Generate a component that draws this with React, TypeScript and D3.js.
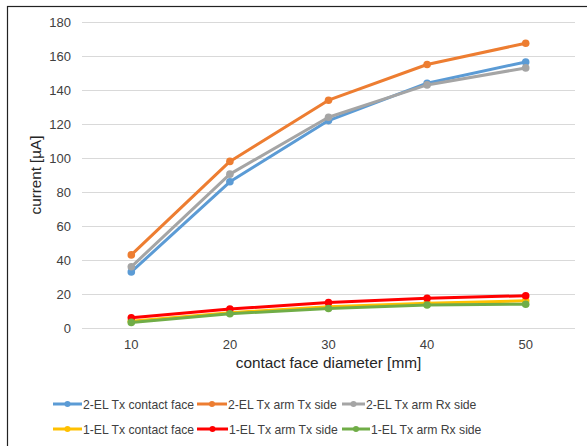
import React from "react";
import * as d3 from "d3";

const categories = ["10", "20", "30", "40", "50"];
const yTicks = [0, 20, 40, 60, 80, 100, 120, 140, 160, 180];

const seriesNames = [
  "2-EL Tx contact face",
  "2-EL Tx arm Tx side",
  "2-EL Tx arm Rx side",
  "1-EL Tx contact face",
  "1-EL Tx arm Tx side",
  "1-EL Tx arm Rx side",
];
const seriesColors = ["#5B9BD5", "#ED7D31", "#A5A5A5", "#FFC000", "#FF0000", "#70AD47"];

const blueValues = [33, 86, 122, 144, 156.5];
const orangeValues = [43, 98, 134, 155, 167.5];
const grayValues = [36, 90.5, 124, 143, 153];
const yellowValues = [4, 9, 12.5, 14.5, 16];
const redValues = [6, 11.2, 15, 17.5, 19];
const greenValues = [3.3, 8.4, 11.5, 13.5, 14];

const seriesValues = [blueValues, orangeValues, grayValues, yellowValues, redValues, greenValues];

export default function App() {
  const W = 587, H = 446;
  const left = 82, right = 575, top = 22, bottom = 328;
  const x = d3.scaleBand().domain(categories).range([left, right]);
  const y = d3.scaleLinear().domain([0, 180]).range([bottom, top]);
  const line = d3
    .line<number>()
    .x((_, i) => (x(categories[i]) as number) + x.bandwidth() / 2)
    .y((d) => y(d));
  const font = "'Liberation Sans', Arial, sans-serif";
  const legendPos = [
    { lx: 53, tx: 83, ly: 404 },
    { lx: 197, tx: 228, ly: 404 },
    { lx: 342, tx: 366, ly: 404 },
    { lx: 53, tx: 83, ly: 429 },
    { lx: 197, tx: 229, ly: 429 },
    { lx: 342, tx: 371, ly: 429 },
  ];
  return (
    <svg
      width={W}
      height={H}
      style={{ position: "absolute", left: 0, top: 0, background: "#fff" }}
      fontFamily={font}
    >
      <rect x={0} y={0} width={W} height={H} fill="#fff" />
      <rect x={7.5} y={6.5} width={W + 10} height={H + 10} fill="none" stroke="#222" strokeWidth={1.2} />
      {yTicks.map((t) => (
        <g key={t}>
          <line x1={left} x2={right} y1={Math.round(y(t)) + 0.5} y2={Math.round(y(t)) + 0.5} stroke="#D9D9D9" strokeWidth={1} />
          <text x={71} y={y(t) + 4.5} textAnchor="end" fontSize={13} fill="#404040">
            {t}
          </text>
        </g>
      ))}
      {categories.map((c) => (
        <text key={c} x={(x(c) as number) + x.bandwidth() / 2} y={349} textAnchor="middle" fontSize={13} fill="#404040">
          {c}
        </text>
      ))}
      <text x={(left + right) / 2} y={368} textAnchor="middle" fontSize={15.4} fill="#262626">
        contact face diameter [mm]
      </text>
      <text
        transform={`translate(41,${(top + bottom) / 2}) rotate(-90)`}
        textAnchor="middle"
        fontSize={15.2}
        fill="#262626"
      >
        current [µA]
      </text>
      {seriesValues.map((vals, si) => (
        <g key={si}>
          <path d={line(vals) || ""} fill="none" stroke={seriesColors[si]} strokeWidth={3} strokeLinejoin="round" strokeLinecap="round" />
          {vals.map((v, i) => (
            <circle key={i} cx={(x(categories[i]) as number) + x.bandwidth() / 2} cy={y(v)} r={3.8} fill={seriesColors[si]} />
          ))}
        </g>
      ))}
      {seriesNames.map((n, i) => {
        const p = legendPos[i];
        return (
          <g key={n}>
            <line x1={p.lx} x2={p.tx - 1} y1={p.ly} y2={p.ly} stroke={seriesColors[i]} strokeWidth={3} />
            <circle cx={(p.lx + p.tx - 1) / 2} cy={p.ly} r={3} fill={seriesColors[i]} />
            <text x={p.tx} y={p.ly + 4.5} fontSize={12.2} fill="#404040">
              {n}
            </text>
          </g>
        );
      })}
    </svg>
  );
}
